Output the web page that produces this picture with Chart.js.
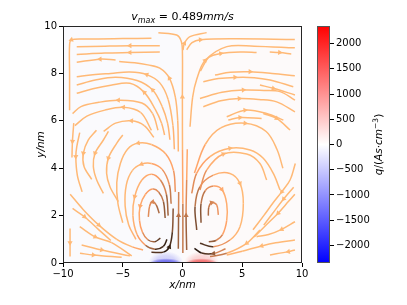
<!DOCTYPE html>
<html>
<head>
<meta charset="utf-8">
<script src="https://cdn.jsdelivr.net/npm/chart.js@4.4.1/dist/chart.umd.min.js"></script>
<style>
  html, body { margin: 0; padding: 0; background: #fff; }
  #wrap { position: relative; width: 407px; height: 305px; }
  #main { position: absolute; left: 0; top: 0; }
  #cbar { position: absolute; left: 300px; top: 0; }
</style>
</head>
<body>
<div id="wrap">
  <canvas id="main" width="407" height="305"></canvas>
  <canvas id="cbar" width="107" height="305"></canvas>
</div>
<script>
// -- Data -----------------------------------------------------------------

const xTicks = [-10, -5, 0, 5, 10];
const yTicks = [0, 2, 4, 6, 8, 10];
const cbTicks = [-2000, -1500, -1000, -500, 0, 500, 1000, 1500, 2000];
const qLimit = 2350;

// surface charge patches on the bottom wall (x centre, charge density)
const chargeX = [-1.4, 1.6];
const chargeQ = [-2000, 2000];

// streamlines, points in flow order [x/nm, y/nm]
const centreStreams = [
  [[0.03, 0.42], [0.03, 2.5], [0.0, 4.77], [-0.01, 7], [-0.01, 8.98], [-0.12, 9.38], [-0.49, 9.62], [-2.02, 9.72]],
  [[0.04, 8.98], [0.16, 9.27], [0.63, 9.55], [2.02, 9.72]],
];

const leftStreams = [
  [[-2.6, 9.48], [-5, 9.47], [-8, 9.45], [-9.3, 9.42], [-9.45, 9.2], [-9.45, 8], [-9.45, 6.45]],
  [[-1.9, 9.17], [-4.4, 9.17], [-6.5, 9.15], [-8.85, 9.12]],
  [[-1.9, 8.9], [-4.4, 8.88], [-6.5, 8.86], [-8.85, 8.8]],
  [[-5.6, 8.57], [-6.9, 8.6], [-8.85, 8.47]],
  [[-0.35, 4.7], [-0.4, 6.0], [-0.6, 7.0], [-1.1, 7.8], [-1.9, 8.22], [-2.9, 8.36], [-4.0, 8.45], [-5.3, 8.5]],
  [[-0.68, 4.8], [-0.8, 5.8], [-1.2, 6.9], [-1.9, 7.6], [-3.0, 7.95], [-4.4, 8.06], [-6.0, 8.0], [-7.5, 7.94], [-8.85, 7.86]],
  [[-1.05, 5.2], [-1.25, 5.9], [-1.7, 6.6], [-2.5, 7.3], [-3.8, 7.7], [-5.6, 7.84], [-7.3, 7.72], [-8.85, 7.51]],
  [[-1.5, 5.4], [-1.75, 5.9], [-2.3, 6.5], [-3.2, 7.2], [-4.4, 7.58], [-6.0, 7.5], [-7.5, 7.35], [-8.85, 7.16]],
  [[-2.05, 5.6], [-2.5, 6.3], [-3.4, 6.75], [-5.37, 6.87], [-7.0, 6.78], [-8.5, 6.6], [-9.2, 6.3]],
  [[-2.6, 5.6], [-3.5, 6.35], [-4.95, 6.57], [-6.5, 6.45], [-8.0, 6.2], [-9.0, 5.8]],
  [[-2.4, 5.3], [-3.2, 5.8], [-4.27, 6.0], [-5.6, 5.9], [-6.6, 5.55]],
  [[-0.6, 3.0], [-0.75, 3.9], [-1.4, 4.6], [-2.6, 5.0], [-3.71, 5.06], [-4.6, 4.8], [-5.2, 4.2], [-5.5, 3.4], [-5.4, 2.5], [-5.0, 1.7]],
  [[-0.95, 2.5], [-1.1, 3.3], [-1.7, 3.95], [-2.6, 4.2], [-3.43, 4.17], [-4.2, 3.9], [-4.7, 3.3], [-4.8, 2.4], [-4.5, 1.6], [-3.9, 1.0]],
  [[-1.95, 2.1], [-2.2, 2.45], [-2.5, 2.58], [-2.75, 2.4], [-2.86, 1.95]],
  [[-1.45, 1.9], [-1.6, 2.6], [-2.0, 3.0], [-2.5, 3.12], [-3.1, 2.9], [-3.55, 2.4], [-3.6, 1.8], [-3.35, 1.3], [-2.9, 0.98], [-2.3, 0.9], [-1.85, 1.05]],
  [[-1.2, 2.0], [-1.35, 2.9], [-1.85, 3.5], [-2.6, 3.75], [-3.4, 3.5], [-4.0, 2.8], [-4.15, 2.0], [-3.8, 1.2], [-3.1, 0.75], [-2.3, 0.58], [-1.6, 0.7], [-1.3, 1.0]],
  [[-9.1, 5.9], [-9.21, 5.13], [-9.25, 4.45]],
  [[-8.6, 5.5], [-8.85, 4.9], [-8.93, 4.49], [-8.8, 3.7], [-8.4, 3.0]],
  [[-7.2, 5.6], [-7.88, 5.19], [-8.3, 4.63], [-8.24, 4.07], [-7.6, 3.53]],
  [[-6.2, 5.55], [-6.62, 5.19], [-7.32, 4.63], [-7.46, 4.07], [-7.18, 3.5], [-6.62, 2.94]],
  [[-5.0, 5.4], [-5.51, 5.05], [-6.21, 4.42], [-6.35, 3.78], [-6.07, 3.22], [-5.37, 2.59]],
  [[-9.4, 2.9], [-8.3, 2.25], [-7.0, 1.6], [-5.5, 1.0], [-4.2, 0.68], [-3.3, 0.55]],
  [[-2.6, 0.45], [-1.6, 0.46], [-1.1, 0.68], [-0.85, 1.3], [-0.78, 2.3]],
  [[-9.2, 2.3], [-8.2, 1.95], [-7.0, 1.4], [-6.0, 0.95]],
  [[-8.6, 1.53], [-7.3, 1.1], [-5.93, 0.86], [-4.25, 0.3]],
  [[-8.44, 0.76], [-6.76, 0.55], [-4.39, 0.3]],
  [[-8.58, 0.41], [-7.46, 0.34], [-5.09, 0.24]],
  [[-9.41, 1.46], [-9.41, 0.85], [-9.41, 0.27]],
  [[-0.35, 0.6], [-0.33, 2.0], [-0.32, 3.0]],
];

const rightStreams = [
  [[0.35, 9.0], [0.8, 9.3], [1.5, 9.42], [4.35, 9.46], [9.4, 9.43]],
  [[0.63, 5.75], [0.85, 7.0], [1.19, 7.75], [1.9, 8.55], [3.71, 9.13], [6, 9.15], [9.4, 9.08]],
  [[1.5, 8.1], [2.22, 8.68], [3.2, 8.84], [5.0, 8.9], [6.2, 8.88]],
  [[7.3, 8.9], [8.13, 8.88], [9.1, 8.82]],
  [[2.72, 7.93], [4.0, 8.05], [5.66, 8.07], [7.5, 8.0], [9.4, 7.9]],
  [[1.74, 7.65], [3.0, 7.78], [4.39, 7.83], [6.0, 7.82], [7.32, 7.72], [9.27, 7.44]],
  [[6.48, 7.51], [7.6, 7.37], [9.41, 7.09]],
  [[1.46, 6.94], [3.3, 7.2], [5.09, 7.3], [6.8, 7.28], [8.16, 7.23], [9.41, 6.87]],
  [[1.74, 6.59], [3.2, 6.85], [4.75, 6.94], [6.4, 6.9], [7.88, 6.8], [9.41, 6.38]],
  [[3.7, 6.17], [5.23, 6.45], [7.04, 6.31], [8.44, 6.03]],
  [[3.83, 6.03], [4.81, 6.14], [6.62, 6.1]],
  [[6.76, 6.31], [7.88, 6.1], [9.0, 5.61]],
  [[1.0, 3.8], [1.9, 5.0], [3.2, 5.7], [5.24, 5.9], [7.0, 5.55], [7.9, 4.8], [8.4, 4.0]],
  [[0.77, 2.94], [1.18, 3.78], [2.3, 4.49], [3.97, 4.84], [5.65, 4.77], [6.76, 4.42], [7.6, 3.78], [8.16, 3.08]],
  [[1.46, 3.08], [2.02, 3.92], [3.42, 4.6], [5.37, 4.6], [6.48, 4.2], [7.04, 3.5]],
  [[2.16, 2.0], [2.2, 2.35], [2.44, 2.55], [2.86, 2.45], [3.0, 2.03]],
  [[1.55, 1.7], [1.55, 2.5], [1.9, 3.05], [2.6, 3.25], [3.3, 3.1], [3.7, 2.5], [3.7, 1.8], [3.35, 1.2], [2.8, 0.95], [2.2, 0.9]],
  [[1.19, 1.39], [1.05, 2.38], [1.46, 3.22], [2.58, 3.71], [3.97, 3.78], [4.81, 3.36], [5.09, 2.52], [4.81, 1.53], [3.97, 0.97], [2.58, 0.69], [1.46, 0.83]],
  [[3.6, 0.6], [2.6, 0.4], [1.6, 0.42], [1.0, 0.62]],
  [[6.48, 1.39], [5.37, 0.83], [3.7, 0.41], [2.3, 0.27]],
  [[9.44, 4.2], [9.0, 3.5], [8.3, 3.0], [7.6, 2.55], [6.8, 2.0], [5.9, 1.4]],
  [[9.3, 3.2], [8.46, 2.7], [7.7, 2.2], [6.8, 1.6]],
  [[9.4, 2.9], [8.86, 2.59], [8.0, 2.1], [7.0, 1.6], [6.0, 1.1]],
  [[9.41, 1.74], [8.3, 1.42], [7.2, 1.2], [6.2, 1.11]],
  [[9.41, 0.97], [7.8, 0.85], [6.62, 0.72], [5.0, 0.5], [3.7, 0.34]],
  [[9.41, 0.55], [8.86, 0.48], [7.32, 0.34]],
  [[0.35, 0.55], [0.3, 2.0], [0.35, 3.5], [0.4, 4.8]],
];

// -- Styling helpers --------------------------------------------------------

const FONT = 'DejaVu Sans';

// copper_r-ish shade: light orange where slow, dark brown near the wall jets
function streamColor(x, y) {
  const dx = (Math.abs(x) - 1.4) / 1.6;
  const dy = y / 3.0;
  const s = Math.exp(-(dx * dx + dy * dy));
  const v = 0.93 - 0.83 * s;
  const r = Math.round(255 * Math.min(1, 1.25 * v));
  const g = Math.round(255 * 0.7812 * v);
  const b = Math.round(255 * 0.4975 * v);
  return `rgb(${r},${g},${b})`;
}

function minus(v) {
  return String(v).replace('-', '\u2212');
}

// draw a row of differently styled text runs (poor man's mathtext)
function drawRuns(ctx, runs, x, y, align) {
  const widths = runs.map((r) => {
    ctx.font = `${r.italic ? 'italic ' : ''}${r.size}px ${FONT}`;
    return ctx.measureText(r.t).width;
  });
  const total = widths.reduce((a, b) => a + b, 0);
  let cx = align === 'center' ? x - total / 2 : x;
  runs.forEach((r, i) => {
    ctx.font = `${r.italic ? 'italic ' : ''}${r.size}px ${FONT}`;
    ctx.fillText(r.t, cx, y + (r.dy || 0));
    cx += widths[i];
  });
}

function arrowRotation(ctx) {
  const chart = ctx.chart;
  const pts = ctx.dataset && ctx.dataset.data;
  if (!pts || !pts.length) return 0;
  const i = ctx.dataIndex;
  const a = pts[Math.max(0, i - 1)];
  const b = pts[Math.min(pts.length - 1, i + 1)];
  const area = chart.chartArea;
  const sx = area && area.width ? area.width / 20 : 12;
  const sy = area && area.height ? area.height / 10 : 23.7;
  const dxp = (b.x - a.x) * sx;
  const upp = (b.y - a.y) * sy;
  return Math.atan2(dxp, upp) * 180 / Math.PI;
}

function makeStream(points) {
  const mid = Math.floor((points.length - 1) / 2);
  return {
    data: points.map(([x, y]) => ({ x, y })),
    showLine: true,
    borderWidth: 1.5,
    tension: 0.35,
    fill: false,
    segment: {
      borderColor: (c) => streamColor((c.p0.parsed.x + c.p1.parsed.x) / 2, (c.p0.parsed.y + c.p1.parsed.y) / 2),
    },
    borderColor: '#fdb776',
    pointStyle: 'triangle',
    pointRadius: (c) => (c.dataIndex === mid ? 3 : 0),
    pointRotation: arrowRotation,
    pointBorderWidth: 0,
    pointBackgroundColor: (c) => {
      const p = points[c.dataIndex] || points[mid];
      return streamColor(p[0], p[1]);
    },
  };
}

// soft elliptical patch, (rx, ry) in pixels
function patch(ctx, px, py, rx, ry, rgb, alpha) {
  ctx.save();
  ctx.translate(px, py);
  ctx.scale(1, ry / rx);
  const g = ctx.createRadialGradient(0, 0, 0, 0, 0, rx);
  g.addColorStop(0, `rgba(${rgb},${alpha})`);
  g.addColorStop(0.6, `rgba(${rgb},${alpha * 0.75})`);
  g.addColorStop(1, `rgba(${rgb},0)`);
  ctx.fillStyle = g;
  ctx.beginPath();
  ctx.arc(0, 0, rx, 0, Math.PI * 2);
  ctx.fill();
  ctx.restore();
}

// -- Plugins ------------------------------------------------------------------

const fieldBackground = {
  id: 'fieldBackground',
  beforeDatasetsDraw(chart) {
    const { ctx, chartArea: a, scales } = chart;
    const x0 = scales.x.getPixelForValue(0);
    ctx.save();
    ctx.beginPath();
    ctx.rect(a.left, a.top, a.width, a.height);
    ctx.clip();
    ctx.fillStyle = '#fafafd';
    ctx.fillRect(a.left, a.top, x0 - a.left, a.height);
    ctx.fillStyle = '#fdfafa';
    ctx.fillRect(x0, a.top, a.right - x0, a.height);
    chargeX.forEach((cx, i) => {
      const px = scales.x.getPixelForValue(cx);
      const py = scales.y.getPixelForValue(0);
      const rx = scales.x.getPixelForValue(cx + 1.35) - px;
      const k = Math.abs(chargeQ[i]) / qLimit;
      const rgb = chargeQ[i] < 0 ? '70,70,235' : '240,70,70';
      patch(ctx, px, py, rx * 1.1, py - scales.y.getPixelForValue(0.5), rgb, 0.3 * k);
      patch(ctx, px, py, rx, py - scales.y.getPixelForValue(0.2), rgb, 0.9 * k);
    });
    ctx.restore();
  },
  afterDraw(chart) {
    const { ctx, chartArea: a } = chart;
    ctx.save();
    ctx.strokeStyle = '#262626';
    ctx.lineWidth = 1;
    ctx.strokeRect(a.left + 0.5, a.top + 0.5, a.width - 1, a.height - 1);

    ctx.fillStyle = '#000';
    ctx.textBaseline = 'alphabetic';
    const cx = (a.left + a.right) / 2;
    drawRuns(ctx, [
      { t: 'v', italic: true, size: 11 },
      { t: 'max', italic: true, size: 8, dy: 2.5 },
      { t: ' = 0.489', size: 11 },
      { t: 'mm/s', italic: true, size: 11 },
    ], cx, 20, 'center');

    drawRuns(ctx, [{ t: 'x/nm', italic: true, size: 10.5 }], cx, 288, 'center');

    ctx.translate(44, (a.top + a.bottom) / 2);
    ctx.rotate(-Math.PI / 2);
    drawRuns(ctx, [{ t: 'y/nm', italic: true, size: 10.5 }], 0, 0, 'center');
    ctx.restore();
  },
};

const cbarFrame = {
  id: 'cbarFrame',
  afterDraw(chart) {
    const { ctx, chartArea: a } = chart;
    ctx.save();
    ctx.strokeStyle = '#555';
    ctx.lineWidth = 1;
    ctx.strokeRect(a.left + 0.5, a.top + 0.5, a.width - 1, a.height - 1);
    ctx.fillStyle = '#000';
    ctx.translate(82, (a.top + a.bottom) / 2);
    ctx.rotate(-Math.PI / 2);
    drawRuns(ctx, [
      { t: 'q', italic: true, size: 10.5 },
      { t: '/(', size: 10.5 },
      { t: 'As', italic: true, size: 10.5 },
      { t: '\u00b7', size: 10.5 },
      { t: 'cm', italic: true, size: 10.5 },
      { t: '\u22123', size: 7.5, dy: -4.5 },
      { t: ')', size: 10.5 },
    ], 0, 0, 'center');
    ctx.restore();
  },
};

// -- Charts -------------------------------------------------------------------

Chart.defaults.font.family = FONT;
Chart.defaults.animation = false;

const tickFont = { family: FONT, size: 10 };

new Chart(document.getElementById('main'), {
  type: 'scatter',
  data: {
    datasets: [...centreStreams, ...leftStreams, ...rightStreams].map(makeStream),
  },
  options: {
    responsive: false,
    events: [],
    layout: { padding: { left: 0, top: 26, right: 105, bottom: 0 } },
    plugins: { legend: { display: false }, tooltip: { enabled: false } },
    scales: {
      x: {
        type: 'linear',
        min: -10,
        max: 10,
        afterBuildTicks: (s) => { s.ticks = xTicks.map((v) => ({ value: v })); },
        afterFit: (s) => { s.height = 42; },
        grid: { drawOnChartArea: false, color: '#000', tickLength: 4 },
        border: { display: false },
        ticks: { color: '#000', font: tickFont, padding: 1, maxRotation: 0, callback: (v) => minus(v) },
      },
      y: {
        type: 'linear',
        min: 0,
        max: 10,
        afterBuildTicks: (s) => { s.ticks = yTicks.map((v) => ({ value: v })); },
        afterFit: (s) => { s.width = 63; },
        grid: { drawOnChartArea: false, color: '#000', tickLength: 4 },
        border: { display: false },
        ticks: { color: '#000', font: tickFont, padding: 2, callback: (v) => minus(v) },
      },
    },
  },
  plugins: [fieldBackground],
});

new Chart(document.getElementById('cbar'), {
  type: 'bar',
  data: {
    labels: ['q'],
    datasets: [{
      data: [[-qLimit, qLimit]],
      barPercentage: 1,
      categoryPercentage: 1,
      borderWidth: 0,
      backgroundColor: (c) => {
        const a = c.chart.chartArea;
        if (!a) return '#fff';
        const g = c.chart.ctx.createLinearGradient(0, a.bottom, 0, a.top);
        g.addColorStop(0, 'rgb(0,0,255)');
        g.addColorStop(0.5, 'rgb(255,255,255)');
        g.addColorStop(1, 'rgb(255,0,0)');
        return g;
      },
    }],
  },
  options: {
    responsive: false,
    events: [],
    layout: { padding: { left: 17, top: 26, right: 0, bottom: 42 } },
    plugins: { legend: { display: false }, tooltip: { enabled: false } },
    scales: {
      x: { display: false },
      y: {
        position: 'right',
        min: -qLimit,
        max: qLimit,
        afterBuildTicks: (s) => { s.ticks = cbTicks.map((v) => ({ value: v })); },
        afterFit: (s) => { s.width = 77; },
        grid: { drawOnChartArea: false, color: '#000', tickLength: 4 },
        border: { display: false },
        ticks: { color: '#000', font: tickFont, padding: 2, callback: (v) => minus(v) },
      },
    },
  },
  plugins: [cbarFrame],
});
</script>
</body>
</html>
